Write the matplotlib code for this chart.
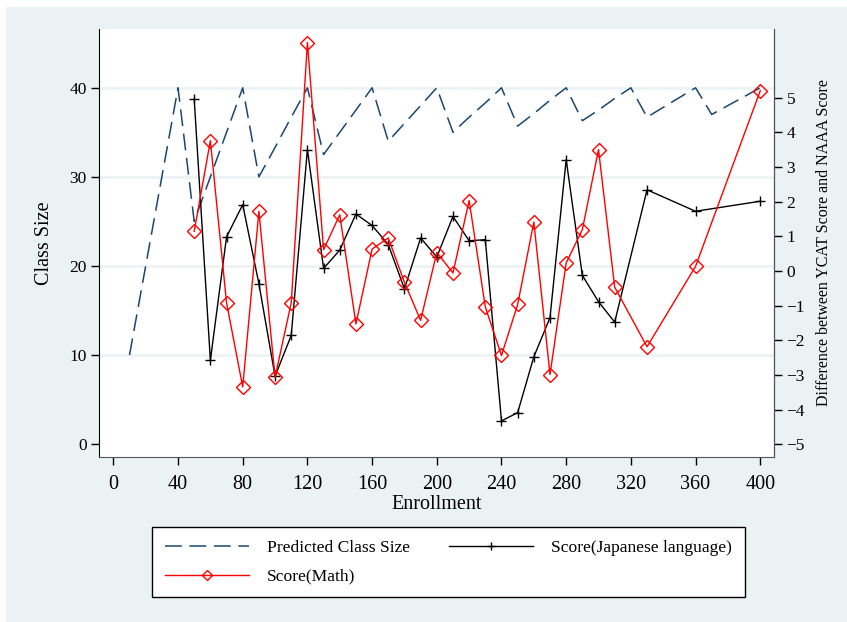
import matplotlib
matplotlib.use("Agg")
import matplotlib.pyplot as plt
from matplotlib.patches import Rectangle

# Enrollment counts (x) shared by all series
enrollment = [10, 20, 30, 40, 50, 60, 70, 80, 90, 100, 110, 120, 130, 140, 150, 160,
              170, 180, 190, 200, 210, 220, 230, 240, 250, 260, 270, 280, 290, 300,
              310, 320, 330, 340, 350, 360, 370, 380, 390, 400]
predicted_size = [10, 20, 30, 40, 25, 30, 35, 40, 30, 33.3, 36.7, 40, 32.5, 35, 37.5, 40,
                  34, 36, 38, 40, 35, 36.7, 38.3, 40, 35.7, 37.1, 38.6, 40, 36.3, 37.5,
                  38.8, 40, 36.7, 37.8, 38.9, 40, 37, 38, 39, 40]

# Score differences, only for enrollments where a school exists
score_x = [50, 60, 70, 80, 90, 100, 110, 120, 130, 140, 150, 160, 170, 180, 190, 200,
           210, 220, 230, 240, 250, 260, 270, 280, 290, 300, 310, 330, 360, 400]
japanese = [4.96, -2.58, 0.98, 1.91, -0.37, -3.04, -1.86, 3.50, 0.07, 0.60, 1.64, 1.31,
            0.76, -0.52, 0.95, 0.40, 1.57, 0.87, 0.90, -4.33, -4.09, -2.48, -1.35, 3.21,
            -0.13, -0.89, -1.48, 2.34, 1.72, 2.01]
math_score = [1.14, 3.76, -0.92, -3.35, 1.72, -3.07, -0.92, 6.59, 0.61, 1.62, -1.53, 0.63,
              0.95, -0.33, -1.43, 0.53, -0.06, 2.03, -1.04, -2.44, -0.97, 1.41, -2.99, 0.23,
              1.19, 3.50, -0.47, -2.19, 0.13, 5.20]

bg = "#eaf2f3"
serif = ["Liberation Serif", "DejaVu Serif"]
plt.rcParams["font.family"] = serif

fig = plt.figure(figsize=(8.47, 6.22), dpi=100, facecolor="white")
fig.patches.append(Rectangle((6 / 847, 0), 1, 1 - 7 / 622, transform=fig.transFigure,
                             facecolor=bg, edgecolor="none", zorder=-10))

ax = fig.add_axes([0.1172, 0.2653, 0.7966, 0.6881])
ax.set_facecolor("white")
ax.set_xlim(-8.7, 408.5)
ax.set_ylim(-1.45, 46.6)
for y in [10, 20, 30, 40]:
    ax.axhline(y, color=bg, lw=1.8, zorder=0)

pred_line, = ax.plot(enrollment, predicted_size, color="#1a476f", lw=1.1,
                     dashes=(11, 5), label="Predicted Class Size")

ax2 = ax.twinx()
ax2.set_ylim(-5.37, 6.98)
jp_line, = ax2.plot(score_x, japanese, color="black", lw=1.0, marker="+",
                    markersize=7, markeredgewidth=1.0, label="Score(Japanese language)")
math_line, = ax2.plot(score_x, math_score, color="red", lw=1.0, marker="D",
                      markersize=7, markerfacecolor="none", markeredgecolor="red",
                      markeredgewidth=1.0, label="Score(Math)")

ax.set_xticks(range(0, 401, 40))
ax.set_yticks([0, 10, 20, 30, 40])
ax2.set_yticks(range(-5, 6))

ax.tick_params(axis="x", labelsize=14.5, length=6, width=1, pad=7)
ax.tick_params(axis="y", labelsize=12.5, length=6, width=1, pad=3)
ax2.tick_params(axis="y", labelsize=12.5, length=6, width=1, pad=3)

for a in (ax, ax2):
    a.spines["top"].set_visible(False)
ax.spines["left"].set_color("black")
ax.spines["bottom"].set_color("#555555")
ax2.spines["right"].set_color("#555555")
ax2.spines["left"].set_visible(False)
ax2.spines["bottom"].set_visible(False)

ax.set_xlabel("Enrollment", fontsize=14.5, labelpad=1)
ax.set_ylabel("Class Size", fontsize=14.5, labelpad=11)
ax2.set_ylabel("Difference between YCAT Score and NAAA Score", fontsize=11.5,
               labelpad=8)

leg = fig.legend([pred_line, math_line, jp_line],
                 ["Predicted Class Size", "Score(Math)", "Score(Japanese language)"],
                 ncol=2, loc="center", bbox_to_anchor=(0.5295, 0.0957),
                 fontsize=12.6, handlelength=4.8, handletextpad=1.05,
                 columnspacing=2.2, markerscale=0.8,
                 fancybox=False, edgecolor="black", framealpha=1, borderpad=0.72,
                 labelspacing=0.7)
leg.get_frame().set_linewidth(1.0)

fig.savefig("out.png", dpi=100, facecolor=fig.get_facecolor())
